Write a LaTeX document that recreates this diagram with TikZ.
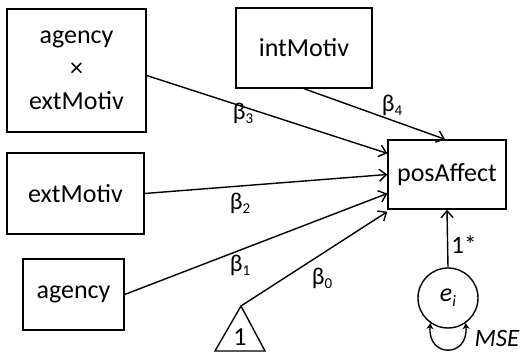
\documentclass[tikz,border=0pt]{standalone}
\usepackage{fontspec}
\setmainfont{Carlito}
\usetikzlibrary{arrows.meta,calc}
\newcommand\bsub[1]{β\raisebox{-4pt}{\fontsize{15}{15}\selectfont #1}}
\begin{document}
\begin{tikzpicture}[x=1pt,y=1pt,
  box/.style={draw,line width=1.4pt,inner sep=0pt,align=center,font=\fontsize{26}{33}\selectfont},
  path/.style={line width=1.4pt,-{Straight Barb[length=7pt,width=12pt,line width=1.4pt]}},
  coef/.style={font=\fontsize{24}{28}\selectfont,inner sep=0pt}]
\useasboundingbox (0,0) rectangle (523,352);
\node[box,minimum width=139pt,minimum height=123pt] (A) at (76.5,281.5) {agency\\×\\extMotiv};
\node[box,minimum width=137pt,minimum height=81pt] (B) at (75.5,158.5) {extMotiv};
\node[box,minimum width=101pt,minimum height=71pt] (C) at (73.5,57.5) {agency};
\node[box,minimum width=136pt,minimum height=80pt] (D) at (304,304) {intMotiv};
\node[box,minimum width=118pt,minimum height=69pt] (P) at (447,177.5) {posAffect};
\node[draw,circle,line width=1.4pt,minimum size=60pt,inner sep=0pt,font=\fontsize{26}{33}\selectfont] (E) at (448,54) {\textit{e}\raisebox{-5pt}{\fontsize{16}{16}\selectfont\textit{i}}};
\coordinate (T) at (241,46);
\coordinate (TL) at (215,1);
\coordinate (TR) at (265,1);
\draw[line width=1.4pt,line join=miter] (TL) -- (T) -- (TR) -- cycle;
\node[font=\fontsize{26}{30}\selectfont,inner sep=0pt] (one) at (240,15) {1};
% paths
\draw[path] ($(A.east)+(0,-5)$) -- ($(P.north west)!0.2!(P.south west)$);
\draw[path] (B.east) -- (P.west);
\draw[path] (C.east) -- ($(P.north west)!0.77!(P.south west)$);
\draw[path] (T) -- ($(P.south west)+(0,-2)$);
\draw[path] (D.south) -- ($(P.north)+(-2,0)$);
\draw[path] (E.north) -- (P.south);
\draw[line width=1.4pt,{Stealth[length=6pt,width=7pt]}-{Stealth[length=6pt,width=7pt]}] (E.-125) .. controls +(-95:35) and +(-85:35) .. (E.-55);
% labels
\node[coef] (b3) at (243,239) {\bsub{3}};
\node[coef] (b4) at (392,247) {\bsub{4}};
\node[coef] (b2) at (240,149) {\bsub{2}};
\node[coef] (b1) at (240,87) {\bsub{1}};
\node[coef] (b0) at (322,74) {\bsub{0}};
\node[font=\fontsize{25}{28}\selectfont,inner sep=0pt] (fix) at (464,107) {1*};
\node[font=\fontsize{25}{28}\selectfont\itshape,inner sep=0pt] (mse) at (497,14) {MSE};
\end{tikzpicture}
\end{document}
